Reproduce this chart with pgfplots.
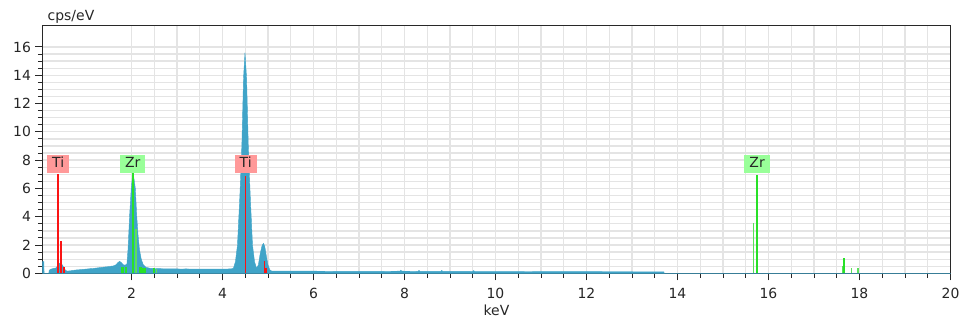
\documentclass[border=0pt]{standalone}
\usepackage{pgfplots}
\pgfplotsset{compat=1.18}
\usepackage{fontspec}
\setmainfont{DejaVu Sans}
\definecolor{spec}{RGB}{64,164,200}
\definecolor{tired}{RGB}{250,20,20}
\definecolor{tibox}{RGB}{255,153,153}
\definecolor{zrbox}{RGB}{153,255,153}
\definecolor{zrline}{RGB}{40,225,40}
\definecolor{zrlight}{RGB}{90,225,90}
\definecolor{gridc}{RGB}{228,228,228}
\definecolor{axc}{RGB}{40,40,40}

\pgfplotstableread{
x y
0.045 0.82
0.075 0.82
0.08 0
0.185 0
0.19 0.2
0.22 0.28
0.26 0.32
0.30 0.35
0.34 0.38
0.37 0.5
0.40 0.7
0.43 0.72
0.46 0.68
0.49 0.55
0.52 0.35
0.55 0.22
0.58 0.16
0.65 0.17
0.70 0.2
0.75 0.22
0.80 0.24
0.85 0.25
0.90 0.27
0.95 0.28
1.00 0.3
1.05 0.31
1.10 0.33
1.15 0.34
1.20 0.36
1.25 0.38
1.30 0.4
1.35 0.42
1.40 0.44
1.45 0.46
1.50 0.47
1.55 0.5
1.60 0.52
1.65 0.58
1.70 0.75
1.74 0.85
1.78 0.75
1.82 0.6
1.86 0.58
1.90 0.65
1.925 1.7
1.96 4.1
1.995 6.0
2.03 7.15
2.06 6.6
2.085 6.0
2.115 4.1
2.145 2.7
2.175 1.7
2.215 1.0
2.26 0.6
2.32 0.42
2.40 0.36
2.50 0.34
2.60 0.33
2.70 0.32
2.80 0.32
2.90 0.31
3.00 0.31
3.10 0.30
3.20 0.31
3.30 0.30
3.40 0.30
3.50 0.30
3.60 0.30
3.70 0.29
3.80 0.30
3.90 0.29
4.00 0.30
4.10 0.30
4.20 0.32
4.24 0.35
4.285 0.82
4.33 2.0
4.383 5.5
4.427 9.1
4.463 13.8
4.495 15.6
4.53 13.8
4.567 9.1
4.61 5.5
4.66 2.0
4.705 0.82
4.75 0.35
4.79 0.6
4.83 1.4
4.87 1.95
4.90 2.12
4.93 1.9
4.96 1.3
5.00 0.6
5.04 0.25
5.08 0.16
5.20 0.15
5.50 0.15
6.00 0.15
6.50 0.14
7.00 0.14
7.50 0.14
7.90 0.15
7.92 0.22
7.94 0.15
8.30 0.14
8.32 0.21
8.34 0.14
8.80 0.14
8.82 0.2
8.84 0.14
9.50 0.13
9.52 0.19
9.54 0.13
10.00 0.13
10.50 0.13
11.00 0.12
11.50 0.12
12.00 0.12
12.50 0.11
13.00 0.11
13.50 0.10
13.70 0.10
13.71 0
20.00 0
}\spectrum

\pgfplotstableread{
x y
0.39 7.0
0.457 2.25
0.52 0.42
4.51 6.9
4.925 0.87
4.96 0.4
}\tilines

\pgfplotstableread{
x y
1.78 0.42
1.82 0.42
1.88 0.42
2.03 7.1
2.19 0.45
2.22 0.45
2.26 0.4
2.30 0.4
2.49 0.35
15.75 6.95
17.66 1.1
}\zrlines

\pgfplotstableread{
x y
2.10 3.1
2.55 0.3
15.67 3.58
17.64 0.55
17.82 0.4
17.97 0.4
}\zrlinesb

\begin{document}
\begin{tikzpicture}
\begin{axis}[
  scale only axis, width=908bp, height=248.3bp,
  xmin=0.045, xmax=20, ymin=0, ymax=17.55,
  xtick={2,4,...,20}, minor x tick num=3,
  ytick={0,2,...,16}, minor y tick num=3,
  grid=both,
  major grid style={gridc, line width=1.3bp},
  minor grid style={gridc, line width=1.3bp},
  tick align=outside, major tick length=7bp, minor tick length=4.5bp,
  tick style={axc, line width=0.9bp},
  axis line style={axc, line width=1bp},
  xtick pos=left, ytick pos=left,
  ticklabel style={font=\fontsize{14}{16}\selectfont, text=black!85},
  /pgf/number format/assume math mode=true,
  xticklabel style={anchor=base, yshift=-18bp},
  yticklabel style={anchor=east, xshift=-1bp},
  xlabel={keV},
  xlabel style={at={(axis description cs:0.5,0)}, anchor=base, yshift=-42.5bp, font=\fontsize{14}{16}\selectfont, text=black!85},
  clip=true,
]
\addplot[draw=spec, line width=0.4bp, fill=spec] table[x=x,y=y] {\spectrum} \closedcycle;
\addplot[ycomb, draw=tired, line width=1.6bp, mark=none] table[x=x,y=y] {\tilines};
\addplot[ycomb, draw=zrlight, line width=1.6bp, mark=none] table[x=x,y=y] {\zrlinesb};
\addplot[ycomb, draw=zrline, line width=1.6bp, mark=none] table[x=x,y=y] {\zrlines};
\node[fill=tibox, anchor=south, inner xsep=5bp, inner ysep=2.8bp, text height=9.8bp, text depth=2.5bp, font=\fontsize{14}{16}\selectfont, text=black!85] at (axis cs:0.39,7.1) {Ti};
\node[fill=zrbox, anchor=south, inner xsep=5bp, inner ysep=2.8bp, text height=9.8bp, text depth=2.5bp, font=\fontsize{14}{16}\selectfont, text=black!85] at (axis cs:2.03,7.1) {Zr};
\node[fill=tibox, anchor=south, inner xsep=5bp, inner ysep=2.8bp, text height=9.8bp, text depth=2.5bp, font=\fontsize{14}{16}\selectfont, text=black!85] at (axis cs:4.51,7.1) {Ti};
\node[fill=zrbox, anchor=south, inner xsep=5bp, inner ysep=2.8bp, text height=9.8bp, text depth=2.5bp, font=\fontsize{14}{16}\selectfont, text=black!85] at (axis cs:15.75,7.1) {Zr};
\end{axis}
\node[anchor=base west, inner sep=0pt, font=\fontsize{14}{16}\selectfont, text=black!85] at ([xshift=5bp,yshift=4.3bp]current axis.north west) {cps/eV};
\pgfresetboundingbox
\path ([shift={(-42.5bp,-50.7bp)}]current axis.south west) rectangle ([shift={(17.5bp,25bp)}]current axis.north east);
\end{tikzpicture}
\end{document}
